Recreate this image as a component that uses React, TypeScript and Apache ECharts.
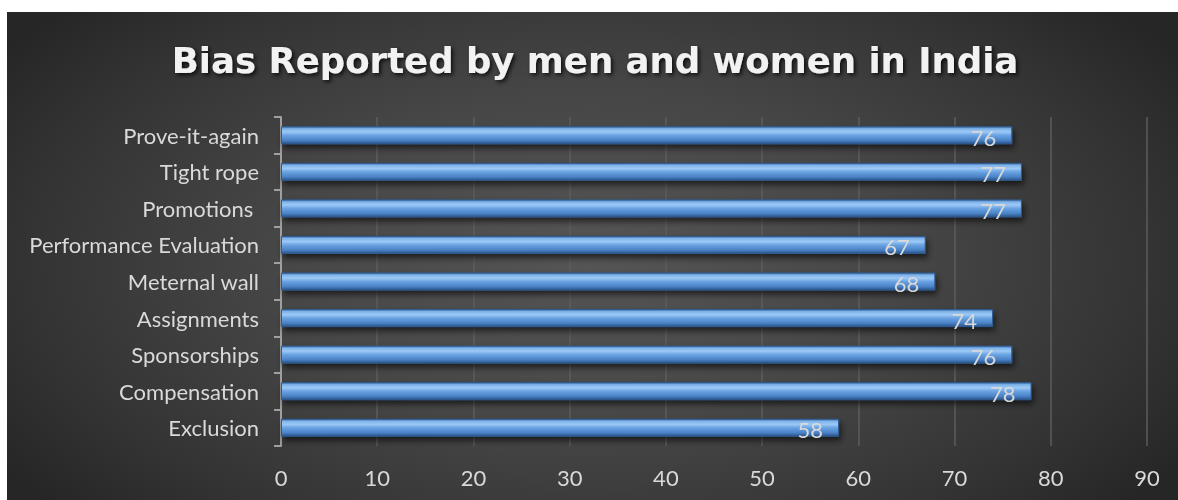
import React, { useEffect, useRef } from "react";
import * as echarts from "echarts";

const categories = [
  "Prove-it-again",
  "Tight rope",
  "Promotions ",
  "Performance Evaluation",
  "Meternal wall",
  "Assignments",
  "Sponsorships",
  "Compensation",
  "Exclusion",
];
const values = [76, 77, 77, 67, 68, 74, 76, 78, 58];
const titleText = "Bias Reported by men and women in India";
const xMin = 0;
const xMax = 90;
const xInterval = 10;

const FONT = "Lato, 'Noto Sans', sans-serif";
const TITLE_FONT = "'DejaVu Sans', 'Open Sans', sans-serif";

export default function App() {
  const ref = useRef<HTMLDivElement>(null);
  useEffect(() => {
    if (!ref.current) return;
    const chart = echarts.init(ref.current, undefined, { renderer: "svg" });
    chart.setOption({
      animation: false,
      backgroundColor: "transparent",
      graphic: [
        {
          type: "text",
          x: 588,
          y: 48,
          style: {
            text: titleText,
            align: "center",
            verticalAlign: "middle",
            fill: "#f2f2f2",
            font: `bold 35.5px ${TITLE_FONT}`,
            textShadowColor: "rgba(0,0,0,0.8)",
            textShadowBlur: 4,
            textShadowOffsetX: 2,
            textShadowOffsetY: 2,
          },
        },
      ],
      grid: { left: 274, right: 31, top: 105, bottom: 54, containLabel: false },
      xAxis: {
        type: "value",
        min: xMin,
        max: xMax,
        interval: xInterval,
        axisLine: { show: false },
        axisTick: { show: false },
        axisLabel: { color: "#d9d9d9", fontSize: 22, fontFamily: FONT, margin: 20 },
        splitLine: { lineStyle: { color: "#5c5c5c", width: 1.5 } },
      },
      yAxis: {
        type: "category",
        data: categories,
        inverse: true,
        axisLine: { lineStyle: { color: "#a0a0a0", width: 2 } },
        axisTick: { show: true, length: 7, lineStyle: { color: "#a0a0a0", width: 2 } },
        axisLabel: { color: "#d9d9d9", fontSize: 22, fontFamily: FONT, margin: 22 },
      },
      series: [
        {
          type: "bar",
          data: values,
          barWidth: 18,
          itemStyle: {
            color: {
              type: "linear",
              x: 0,
              y: 0,
              x2: 0,
              y2: 1,
              colorStops: [
                { offset: 0, color: "#3f6fa8" },
                { offset: 0.12, color: "#7fb3ea" },
                { offset: 0.3, color: "#9cc9f6" },
                { offset: 0.5, color: "#6aa3e2" },
                { offset: 0.8, color: "#4a82c6" },
                { offset: 1, color: "#2a5387" },
              ],
            },
            borderColor: "#2f5c92",
            borderWidth: 1,
            shadowColor: "rgba(0,0,0,0.6)",
            shadowBlur: 6,
            shadowOffsetX: 2,
            shadowOffsetY: 4,
          },
          label: {
            show: true,
            position: "insideRight",
            distance: 16,
            color: "#d9d9d9",
            fontSize: 22,
            fontFamily: FONT,
            offset: [0, 2],
          },
        },
      ],
    });
    return () => chart.dispose();
  }, []);
  return (
    <div
      style={{
        position: "fixed",
        left: 0,
        top: 0,
        right: 0,
        bottom: 0,
        background:
          "radial-gradient(ellipse 60% 75% at 50% 52%, #555555 0%, #464646 45%, #333333 80%, #262626 100%)",
        overflow: "hidden",
      }}
    >
      <div style={{ position: "absolute", left: 0, top: 0, right: 0, height: 12, background: "#ffffff" }} />
      <div style={{ position: "absolute", left: 0, top: 0, width: 7, bottom: 0, background: "#ffffff" }} />
      <div ref={ref} style={{ position: "absolute", left: 7, top: 12, width: 1171, height: 488 }} />
    </div>
  );
}
